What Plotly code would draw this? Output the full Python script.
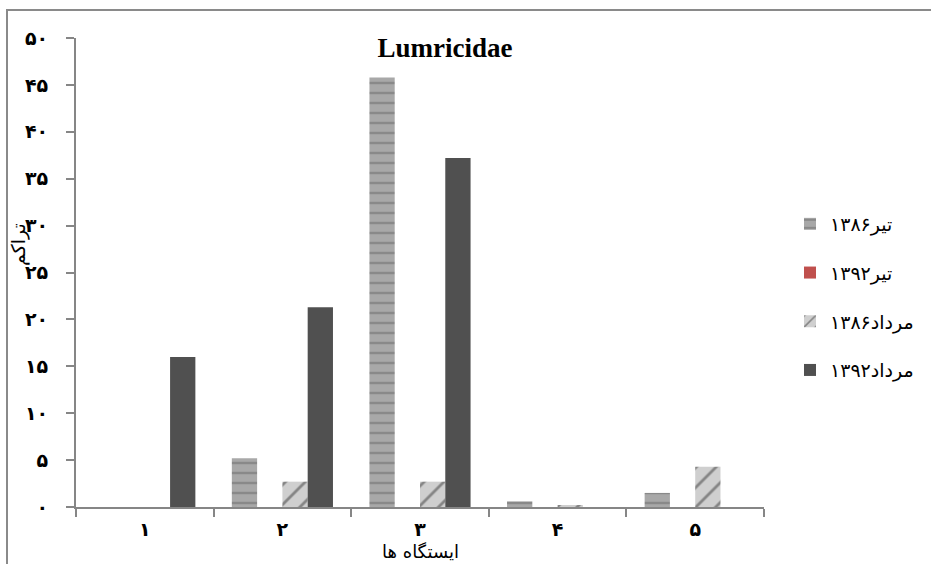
import plotly.graph_objects as go

stations = ["۱", "۲", "۳", "۴", "۵"]
tir86 = [0, 5.2, 45.8, 0.6, 1.5]
tir92 = [0, 0, 0, 0, 0]
mordad86 = [0, 2.7, 2.7, 0.2, 4.3]
mordad92 = [16.0, 21.3, 37.2, 0, 0]
series_names = ["تیر۱۳۸۶", "تیر۱۳۹۲", "مرداد۱۳۸۶", "مرداد۱۳۹۲"]
ytick_vals = [0, 5, 10, 15, 20, 25, 30, 35, 40, 45, 50]
ytick_text = ["۰", "۵", "۱۰", "۱۵", "۲۰", "۲۵", "۳۰", "۳۵", "۴۰", "۴۵", "۵۰"]

W, H = 931, 564
L, R, T, B = 76, 167, 38, 57
pw, ph = W - L - R, H - T - B

fig = go.Figure()
fig.add_trace(go.Bar(x=stations, y=tir86, name=series_names[0], legendgroup="a",
                     marker=dict(color="#a8a8a8", line=dict(width=0),
                                 pattern=dict(shape="-", fgcolor="#6a6a6a", size=10, solidity=0.25))))
fig.add_trace(go.Bar(x=stations, y=tir92, name=series_names[1], legendgroup="b",
                     marker=dict(color="#c0504d", line=dict(width=0))))
fig.add_trace(go.Bar(x=stations, y=mordad86, name=series_names[2], legendgroup="c",
                     marker=dict(color="#cfcfcf", line=dict(width=0),
                                 pattern=dict(shape="/", fgcolor="#3a3a3a", bgcolor="#cfcfcf", size=14, solidity=0.2))))
fig.add_trace(go.Bar(x=stations, y=mordad92, name=series_names[3], legendgroup="d",
                     marker=dict(color="#505050", line=dict(width=0))))

fig.update_layout(
    width=W, height=H,
    margin=dict(l=L, r=R, t=T, b=B),
    paper_bgcolor="white", plot_bgcolor="white",
    barmode="group", bargap=0.265, bargroupgap=0,
    title=dict(text="<b>Lumricidae</b>", x=445 / W, xanchor="center", y=1 - 48 / H, yanchor="middle",
               font=dict(family="Liberation Serif", size=27, color="black")),
    font=dict(family="Liberation Serif, DejaVu Sans", size=17, color="black"),
    legend=dict(x=(790 - L) / pw, xanchor="left", y=(H - B - 205) / ph, yanchor="top",
                tracegroupgap=21, font=dict(size=19, family="DejaVu Serif, DejaVu Sans"),
                bgcolor="rgba(0,0,0,0)"),
    xaxis=dict(showline=True, linecolor="#868686", linewidth=2, ticks="outside", tickson="boundaries",
               ticklen=8, tickcolor="#868686", tickwidth=2, showgrid=False, ticklabelstandoff=4,
               tickfont=dict(size=19, family="DejaVu Serif, DejaVu Sans", weight="bold")),
    yaxis=dict(range=[0, 50], tickvals=ytick_vals, ticktext=ytick_text, showline=True,
               linecolor="#868686", linewidth=2, ticks="outside", ticklen=8, tickcolor="#868686",
               tickwidth=2, showgrid=False, zeroline=False, ticklabelstandoff=14,
               tickfont=dict(size=19, family="DejaVu Serif, DejaVu Sans", weight="bold")),
    shapes=[dict(type="rect", xref="paper", yref="paper",
                 x0=(7 - L) / pw, x1=(945 - L) / pw, y0=(H - B - 580) / ph, y1=(H - B - 10) / ph,
                 line=dict(color="#8a8a8a", width=2), fillcolor="rgba(0,0,0,0)", layer="below")],
    annotations=[
        dict(text="ایستگاه ها", xref="paper", yref="paper", x=(420 - L) / pw, y=(H - B - 551) / ph,
             xanchor="center", yanchor="middle", showarrow=False,
             font=dict(size=18, family="DejaVu Serif, DejaVu Sans")),
        dict(text="تراکم", xref="paper", yref="paper", x=(18 - L) / pw, y=(H - B - 245) / ph,
             xanchor="center", yanchor="middle", showarrow=False, textangle=-90,
             font=dict(size=19, family="DejaVu Serif, DejaVu Sans")),
    ],
)

fig.write_html("out.html")
